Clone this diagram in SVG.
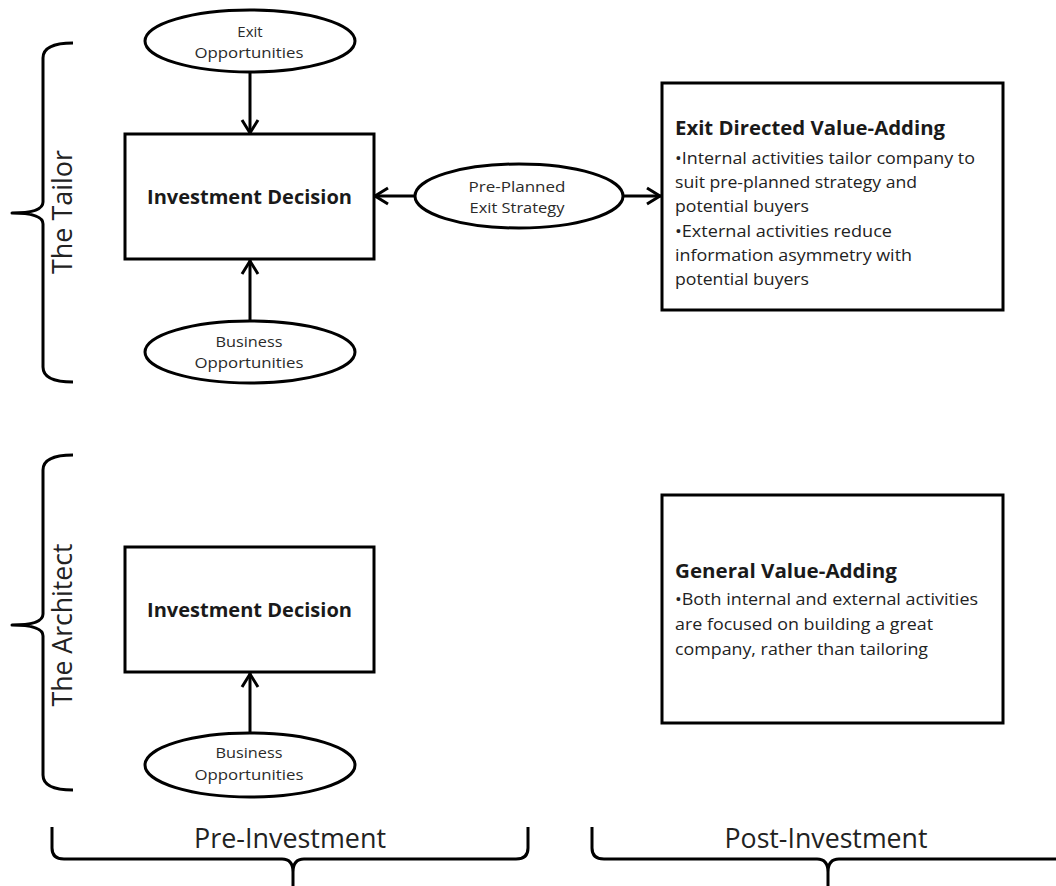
<svg xmlns="http://www.w3.org/2000/svg" width="1056" height="886" viewBox="0 0 1056 886">
  <style>
    .box { fill: #ffffff; stroke: #000000; stroke-width: 3; }
    .oval { fill: #ffffff; stroke: #000000; stroke-width: 3; }
    .brace { fill: none; stroke: #000000; stroke-width: 3; stroke-linecap: butt; stroke-linejoin: round; }
    .link { fill: none; stroke: #000000; stroke-width: 3; marker-end: url(#chevron); }
    text { font-family: "Open Sans", "Liberation Sans", sans-serif; fill: #1a1a1a; }
    .small { font-size: 15px; text-anchor: middle; fill: #2a2a2a; }
    .head { font-size: 20px; font-weight: bold; text-anchor: middle; }
    .title { font-size: 20px; font-weight: bold; }
    .body { font-size: 17px; fill: #222222; }
    .side { font-size: 27px; text-anchor: middle; fill: #222222; }
  </style>
  <defs>
    <marker id="chevron" viewBox="-18 -11 20 22" markerWidth="20" markerHeight="22" refX="0" refY="0" orient="auto" markerUnits="userSpaceOnUse">
      <path d="M-14,-8 L-1,0 L-14,8" fill="none" stroke="#000000" stroke-width="3" stroke-linejoin="miter"/>
    </marker>
  </defs>

  <!-- row brackets -->
  <g id="bracket-tailor">
    <path class="brace" d="M73,43 Q43,43 43,58 L43,202 Q43,213 12,213 Q43,213 43,224 L43,367 Q43,382 73,382"/>
    <text class="side" transform="translate(72,212) rotate(-90)" textLength="124" lengthAdjust="spacingAndGlyphs">The Tailor</text>
  </g>
  <g id="bracket-architect">
    <path class="brace" d="M73,455 Q43,455 43,470 L43,614 Q43,625 12,625 Q43,625 43,636 L43,775 Q43,790 73,790"/>
    <text class="side" transform="translate(72,625) rotate(-90)" textLength="163" lengthAdjust="spacingAndGlyphs">The Architect</text>
  </g>

  <!-- column brackets -->
  <g id="bracket-pre">
    <path class="brace" d="M52,827 L52,848 Q52,859 64,859 L282,859 Q293,859 293,872 L293,886 M293,872 Q293,859 304,859 L516,859 Q528,859 528,848 L528,827"/>
    <text class="side" x="290" y="848" textLength="192" lengthAdjust="spacingAndGlyphs">Pre-Investment</text>
  </g>
  <g id="bracket-post">
    <path class="brace" d="M592,827 L592,848 Q592,859 604,859 L817,859 Q828,859 828,872 L828,886 M828,872 Q828,859 839,859 L1056,859"/>
    <text class="side" x="826" y="848" textLength="203" lengthAdjust="spacingAndGlyphs">Post-Investment</text>
  </g>

  <!-- connectors -->
  <g id="connectors">
    <line class="link" x1="250" y1="72" x2="250" y2="134"/>
    <line class="link" x1="250" y1="321" x2="250" y2="260"/>
    <line class="link" x1="415" y1="196" x2="374" y2="196"/>
    <line class="link" x1="623" y1="196" x2="661" y2="196"/>
    <line class="link" x1="250" y1="733" x2="250" y2="673"/>
  </g>

  <!-- the tailor -->
  <g id="exit-opportunities">
    <ellipse class="oval" cx="250" cy="41" rx="105" ry="31"/>
    <text class="small" x="250" y="37">Exit</text>
    <text class="small" x="249" y="58" textLength="109" lengthAdjust="spacingAndGlyphs">Opportunities</text>
  </g>
  <g id="investment-decision-tailor">
    <rect class="box" x="125" y="134" width="249" height="125"/>
    <text class="head" x="249.5" y="204" textLength="205" lengthAdjust="spacingAndGlyphs">Investment Decision</text>
  </g>
  <g id="business-opportunities-tailor">
    <ellipse class="oval" cx="250" cy="352" rx="105" ry="31"/>
    <text class="small" x="249" y="347" textLength="67" lengthAdjust="spacingAndGlyphs">Business</text>
    <text class="small" x="249" y="368" textLength="109" lengthAdjust="spacingAndGlyphs">Opportunities</text>
  </g>
  <g id="pre-planned-exit-strategy">
    <ellipse class="oval" cx="519" cy="196" rx="104" ry="32"/>
    <text class="small" x="517" y="192" textLength="97" lengthAdjust="spacingAndGlyphs">Pre-Planned</text>
    <text class="small" x="517" y="213" textLength="95" lengthAdjust="spacingAndGlyphs">Exit Strategy</text>
  </g>
  <g id="exit-directed-value-adding">
    <rect class="box" x="662" y="83" width="341" height="227"/>
    <text class="title" x="675" y="135" textLength="270" lengthAdjust="spacingAndGlyphs">Exit Directed Value-Adding</text>
    <text class="body" x="675" y="164" textLength="300" lengthAdjust="spacingAndGlyphs">•Internal activities tailor company to</text>
    <text class="body" x="675" y="188" textLength="242" lengthAdjust="spacingAndGlyphs">suit pre-planned strategy and</text>
    <text class="body" x="675" y="212" textLength="134" lengthAdjust="spacingAndGlyphs">potential buyers</text>
    <text class="body" x="675" y="237" textLength="217" lengthAdjust="spacingAndGlyphs">•External activities reduce</text>
    <text class="body" x="675" y="261" textLength="237" lengthAdjust="spacingAndGlyphs">information asymmetry with</text>
    <text class="body" x="675" y="285" textLength="134" lengthAdjust="spacingAndGlyphs">potential buyers</text>
  </g>

  <!-- the architect -->
  <g id="investment-decision-architect">
    <rect class="box" x="125" y="547" width="249" height="125"/>
    <text class="head" x="249.5" y="617" textLength="205" lengthAdjust="spacingAndGlyphs">Investment Decision</text>
  </g>
  <g id="business-opportunities-architect">
    <ellipse class="oval" cx="250" cy="765" rx="105" ry="32"/>
    <text class="small" x="249" y="758" textLength="67" lengthAdjust="spacingAndGlyphs">Business</text>
    <text class="small" x="249" y="780" textLength="109" lengthAdjust="spacingAndGlyphs">Opportunities</text>
  </g>
  <g id="general-value-adding">
    <rect class="box" x="662" y="495" width="341" height="228"/>
    <text class="title" x="675" y="578" textLength="222" lengthAdjust="spacingAndGlyphs">General Value-Adding</text>
    <text class="body" x="675" y="605" textLength="303" lengthAdjust="spacingAndGlyphs">•Both internal and external activities</text>
    <text class="body" x="675" y="630" textLength="258" lengthAdjust="spacingAndGlyphs">are focused on building a great</text>
    <text class="body" x="675" y="655" textLength="253" lengthAdjust="spacingAndGlyphs">company, rather than tailoring</text>
  </g>
</svg>
